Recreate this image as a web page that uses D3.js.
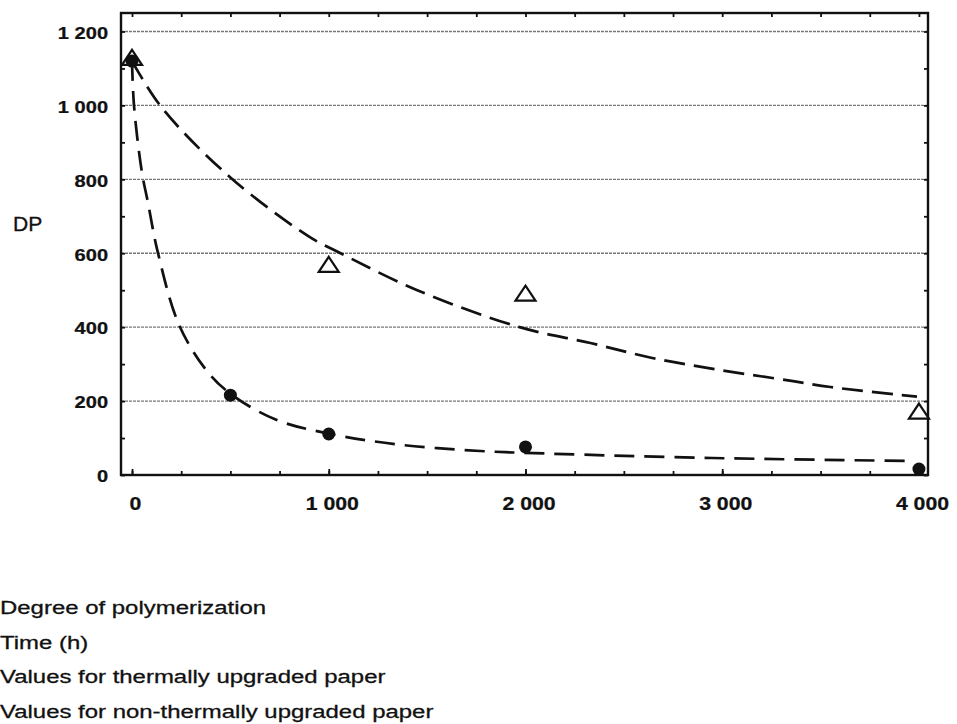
<!DOCTYPE html>
<html>
<head>
<meta charset="utf-8">
<script src="https://cdn.jsdelivr.net/npm/d3@7"></script>
<style>
  html, body { margin: 0; padding: 0; background: #fff; }
  svg { display: block; }
  text { font-family: "Liberation Sans", Arial, Helvetica, sans-serif; fill: #111; }
</style>
</head>
<body>
<svg id="chart" width="957" height="724"></svg>
<script>
// ---- data ----
const xMajorTicks = [0, 1000, 2000, 3000, 4000];
const xTickLabels = ["0", "1 000", "2 000", "3 000", "4 000"];
const yMajorTicks = [0, 200, 400, 600, 800, 1000, 1200];
const yTickLabels = ["0", "200", "400", "600", "800", "1 000", "1 200"];
const gridValues = [200, 400, 600, 800, 1000, 1200];

// triangles: thermally upgraded paper
const thermalTime = [0, 1000, 2000, 4000];
const thermalDP   = [1130, 570, 492, 173];
// filled circles: non-thermally upgraded paper
const nonThermalTime = [0, 500, 1000, 2000, 4000];
const nonThermalDP   = [1120, 216, 111, 76, 16];

// dashed fitted curves
const upperCurveTime = [0, 150, 500, 900, 1060, 1450, 1970, 2330, 2650, 2990, 3360, 3550, 3990];
const upperCurveDP   = [1120, 995, 805, 645, 600, 500, 400, 357, 316, 284, 254, 238, 212];
const lowerCurveTime = [0, 10, 50, 80, 130, 240, 380, 500, 730, 1000, 1360, 1770, 2110, 2950, 3950];
const lowerCurveDP   = [1120, 1000, 820, 740, 605, 405, 282, 220, 150, 112, 82, 65, 58, 46, 38];

const yAxisTitle = "DP";
const legendLines = [
  "Degree of polymerization",
  "Time (h)",
  "Values for thermally upgraded paper",
  "Values for non-thermally upgraded paper"
];

// ---- layout ----
const svg = d3.select("#chart");
const L = 121, R = 928, T = 13, B = 475;
const x = d3.scaleLinear().domain([-56, 4046]).range([L, R]);
const y = d3.scaleLinear().domain([0, 1250]).range([B, T]);
const stretch = 1.18;

// gridlines
svg.append("g").selectAll("line").data(gridValues).join("line")
  .attr("x1", L).attr("x2", R)
  .attr("y1", d => y(d)).attr("y2", d => y(d))
  .attr("stroke", "#777").attr("stroke-width", 1.3)
  .attr("stroke-dasharray", "3,1");

// axes
function styleAxis(g) {
  g.select(".domain").remove();
  g.selectAll(".tick line").attr("stroke", "#111").attr("stroke-width", 1.8);
}
const xMinor = d3.range(0, 4001, 250);
const yMinor = d3.range(0, 1201, 100);

svg.append("g").attr("transform", `translate(0,${B})`)
  .call(d3.axisBottom(x).tickValues(xMinor).tickSize(-4).tickFormat(""))
  .call(styleAxis);
svg.append("g").attr("transform", `translate(0,${B})`)
  .call(d3.axisBottom(x).tickValues(xMajorTicks).tickSize(-6).tickPadding(22)
    .tickFormat((d, i) => xTickLabels[i]))
  .call(styleAxis)
  .call(g => g.selectAll("text")
    .attr("font-size", 18).attr("font-weight", "bold")
    .attr("font-family", "Liberation Sans, Arial, sans-serif")
    .attr("fill", "#111").attr("stroke", "#111").attr("stroke-width", 0.25)
    .attr("transform", `translate(3,0) scale(${stretch},1)`));

svg.append("g").attr("transform", `translate(0,${T})`)
  .call(d3.axisTop(x).tickValues(xMinor).tickSize(-4).tickFormat(""))
  .call(styleAxis);

svg.append("g").attr("transform", `translate(${L},0)`)
  .call(d3.axisLeft(y).tickValues(yMinor).tickSize(-4).tickFormat(""))
  .call(styleAxis);
svg.append("g").attr("transform", `translate(${L},0)`)
  .call(d3.axisLeft(y).tickValues(yMajorTicks).tickSize(0).tickPadding(11)
    .tickFormat((d, i) => yTickLabels[i]))
  .call(styleAxis)
  .call(g => g.selectAll("text")
    .attr("font-size", 17).attr("font-weight", "bold")
    .attr("font-family", "Liberation Sans, Arial, sans-serif")
    .attr("fill", "#111").attr("stroke", "#111").attr("stroke-width", 0.25)
    .attr("dy", "0.4em")
    .attr("transform", `scale(${stretch},1)`));

svg.append("g").attr("transform", `translate(${R},0)`)
  .call(d3.axisRight(y).tickValues(yMinor).tickSize(-4).tickFormat(""))
  .call(styleAxis);

// frame
svg.append("rect")
  .attr("x", L).attr("y", T).attr("width", R - L).attr("height", B - T)
  .attr("fill", "none").attr("stroke", "#111").attr("stroke-width", 2.4);

// dashed curves
const line = d3.line().x(d => x(d[0])).y(d => y(d[1])).curve(d3.curveCatmullRom.alpha(0.5));
svg.append("path")
  .attr("d", line(d3.zip(upperCurveTime, upperCurveDP)))
  .attr("fill", "none").attr("stroke", "#111").attr("stroke-width", 2.7)
  .attr("stroke-dasharray", "21,9");
svg.append("path")
  .attr("d", line(d3.zip(lowerCurveTime, lowerCurveDP)))
  .attr("fill", "none").attr("stroke", "#111").attr("stroke-width", 2.7)
  .attr("stroke-dasharray", "20,10");

// triangles (open)
svg.append("g").selectAll("path").data(d3.zip(thermalTime, thermalDP)).join("path")
  .attr("transform", d => `translate(${x(d[0])},${y(d[1])})`)
  .attr("d", "M0,-7.5L10,7.5L-10,7.5Z")
  .attr("fill", "#fff").attr("stroke", "#111").attr("stroke-width", 2.2)
  .attr("stroke-linejoin", "miter");

// filled circles
svg.append("g").selectAll("circle").data(d3.zip(nonThermalTime, nonThermalDP)).join("circle")
  .attr("cx", d => x(d[0])).attr("cy", d => y(d[1])).attr("r", 6.5)
  .attr("fill", "#111");

// y-axis title
svg.append("text")
  .attr("transform", `translate(13,231) scale(1.08,1)`)
  .attr("font-size", 19.5).attr("stroke", "#111").attr("stroke-width", 0.3)
  .text(yAxisTitle);

// legend / key text
svg.append("g").selectAll("text").data(legendLines).join("text")
  .attr("transform", (d, i) => `translate(0,${614 + i * 34.7}) scale(1.26,1)`)
  .attr("font-size", 19).attr("stroke", "#111").attr("stroke-width", 0.3)
  .text(d => d);
</script>
</body>
</html>
